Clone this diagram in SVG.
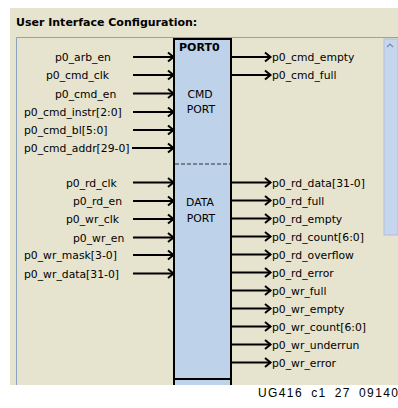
<svg xmlns="http://www.w3.org/2000/svg" width="398" height="408" viewBox="0 0 398 408">
<style>
.lbl{font-family:"DejaVu Sans",Verdana,sans-serif;font-size:10.8px;fill:#000}
.ttl{font-family:"DejaVu Sans",Verdana,sans-serif;font-size:11px;font-weight:bold;fill:#000}
.port{font-family:"DejaVu Sans",Verdana,sans-serif;font-size:10.8px;fill:#000;text-anchor:middle}
.wire{stroke:#000;stroke-width:2;fill:none;marker-end:url(#chev)}
.foot{font-family:"Liberation Sans",Arial,sans-serif;font-size:12px;fill:#000}
</style>
<defs>
<marker id="chev" markerUnits="userSpaceOnUse" markerWidth="10" markerHeight="12" refX="8" refY="6" orient="auto">
<polyline points="2,1.5 7.5,6 2,10.5" fill="none" stroke="#000" stroke-width="2"/>
</marker>
</defs>
<rect x="0" y="0" width="398" height="408" fill="#fff"/>
<rect x="10" y="8" width="388" height="377" fill="#e6e3cf"/>
<text class="ttl" x="16" y="26">User Interface Configuration:</text>
<line x1="16.5" y1="37.5" x2="398" y2="37.5" stroke="#8aa4c0" stroke-width="1"/>
<line x1="16.5" y1="37.5" x2="16.5" y2="385" stroke="#8aa4c0" stroke-width="1"/>
<g id="scrollbar">
<rect x="384" y="39" width="14" height="196" fill="#c6d6ef" stroke="#b0c0d8" stroke-width="1"/>
<path d="M387,47 L390,44 L393,47" fill="none" stroke="#7a8aa0" stroke-width="1.2"/>
</g>
<g id="port0">
<rect x="174" y="39" width="57" height="346" fill="#bed2ea"/>
<line x1="174" y1="38" x2="174" y2="385" stroke="#000" stroke-width="2"/>
<line x1="231" y1="38" x2="231" y2="385" stroke="#000" stroke-width="2"/>
<line x1="173" y1="39" x2="232" y2="39" stroke="#000" stroke-width="2"/>
<line x1="173" y1="379" x2="232" y2="379" stroke="#000" stroke-width="2"/>
<line x1="175" y1="164" x2="230" y2="164" stroke="#333" stroke-width="1" stroke-dasharray="4,2"/>
<text class="ttl" x="179" y="51">PORT0</text>
<text class="port" x="200" y="98">CMD</text>
<text class="port" x="201" y="113">PORT</text>
<text class="port" x="200" y="206">DATA</text>
<text class="port" x="201" y="222">PORT</text>
</g>
<g id="inputs">
<text class="lbl" x="55" y="61">p0_arb_en</text>
<text class="lbl" x="46" y="79">p0_cmd_clk</text>
<text class="lbl" x="55" y="97.5">p0_cmd_en</text>
<text class="lbl" x="24" y="116">p0_cmd_instr[2:0]</text>
<text class="lbl" x="24" y="134">p0_cmd_bl[5:0]</text>
<text class="lbl" x="24" y="152">p0_cmd_addr[29-0]</text>
<text class="lbl" x="66" y="186.5">p0_rd_clk</text>
<text class="lbl" x="73" y="205">p0_rd_en</text>
<text class="lbl" x="66" y="223">p0_wr_clk</text>
<text class="lbl" x="73" y="241.5">p0_wr_en</text>
<text class="lbl" x="24" y="259">p0_wr_mask[3-0]</text>
<text class="lbl" x="24" y="277.5">p0_wr_data[31-0]</text>
</g>
<g id="outputs">
<text class="lbl" x="272" y="61">p0_cmd_empty</text>
<text class="lbl" x="272" y="79">p0_cmd_full</text>
<text class="lbl" x="272" y="186.5">p0_rd_data[31-0]</text>
<text class="lbl" x="272" y="204.5">p0_rd_full</text>
<text class="lbl" x="272" y="222.5">p0_rd_empty</text>
<text class="lbl" x="272" y="240.5">p0_rd_count[6:0]</text>
<text class="lbl" x="272" y="258.5">p0_rd_overflow</text>
<text class="lbl" x="272" y="276.5">p0_rd_error</text>
<text class="lbl" x="272" y="294.5">p0_wr_full</text>
<text class="lbl" x="272" y="312.5">p0_wr_empty</text>
<text class="lbl" x="272" y="330.5">p0_wr_count[6:0]</text>
<text class="lbl" x="272" y="348.5">p0_wr_underrun</text>
<text class="lbl" x="272" y="366.5">p0_wr_error</text>
</g>
<g id="connectors">
<line class="wire" x1="133" y1="57" x2="174" y2="57"/>
<line class="wire" x1="133" y1="75" x2="174" y2="75"/>
<line class="wire" x1="133" y1="93.5" x2="174" y2="93.5"/>
<line class="wire" x1="133" y1="112" x2="174" y2="112"/>
<line class="wire" x1="133" y1="130" x2="174" y2="130"/>
<line class="wire" x1="132" y1="148" x2="174" y2="148"/>
<line class="wire" x1="133" y1="182.5" x2="174" y2="182.5"/>
<line class="wire" x1="133" y1="201" x2="174" y2="201"/>
<line class="wire" x1="133" y1="219" x2="174" y2="219"/>
<line class="wire" x1="133" y1="237.5" x2="174" y2="237.5"/>
<line class="wire" x1="133" y1="255" x2="174" y2="255"/>
<line class="wire" x1="133" y1="273.5" x2="174" y2="273.5"/>
<line class="wire" x1="232" y1="57" x2="271" y2="57"/>
<line class="wire" x1="232" y1="75" x2="271" y2="75"/>
<line class="wire" x1="232" y1="182.5" x2="271" y2="182.5"/>
<line class="wire" x1="232" y1="200.5" x2="271" y2="200.5"/>
<line class="wire" x1="232" y1="218.5" x2="271" y2="218.5"/>
<line class="wire" x1="232" y1="236.5" x2="271" y2="236.5"/>
<line class="wire" x1="232" y1="254.5" x2="271" y2="254.5"/>
<line class="wire" x1="232" y1="272.5" x2="271" y2="272.5"/>
<line class="wire" x1="232" y1="290.5" x2="271" y2="290.5"/>
<line class="wire" x1="232" y1="308.5" x2="271" y2="308.5"/>
<line class="wire" x1="232" y1="326.5" x2="271" y2="326.5"/>
<line class="wire" x1="232" y1="344.5" x2="271" y2="344.5"/>
<line class="wire" x1="232" y1="362.5" x2="271" y2="362.5"/>
</g>
<text class="foot" x="258" y="397" letter-spacing="1.4" word-spacing="3.4">UG416 c1 27 09140</text>
</svg>
